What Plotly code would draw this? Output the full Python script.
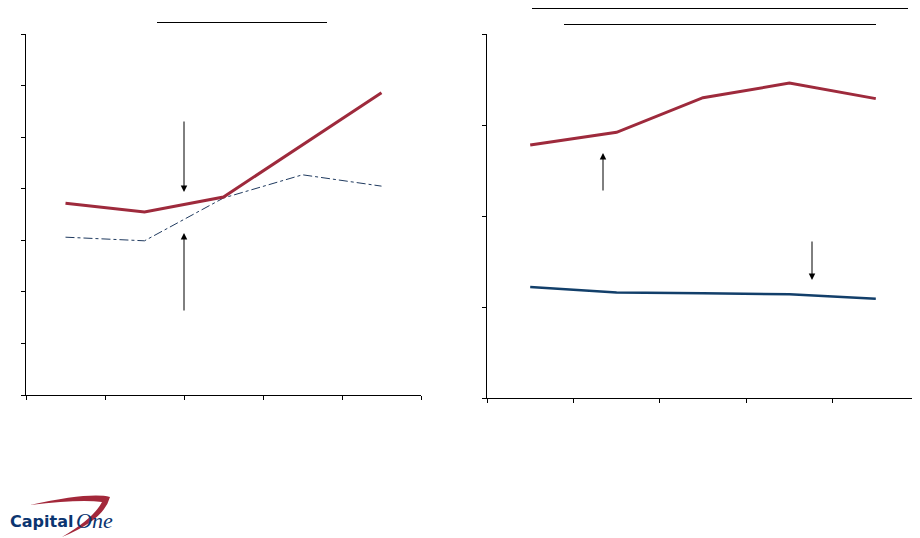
import plotly.graph_objects as go

# period buckets (no labels shown in the original)
periods = ["P1", "P2", "P3", "P4", "P5"]

# left panel
left_red = [3.72, 3.55, 3.84, 4.85, 5.86]
left_blue = [3.06, 2.99, 3.82, 4.27, 4.05]

# right panel
right_red = [2.78, 2.92, 3.30, 3.46, 3.29]
right_blue = [1.22, 1.16, 1.15, 1.14, 1.09]

RED = "#9E2A3C"
NAVY = "#123F6A"
# the page body has an 8px margin, so the figure is placed at (8, 8)
OFF = 8
W, H = 912, 530


def px(x):
    return (x - OFF) / W


def py(y):
    return 1 - (y - OFF) / H


fig = go.Figure()

fig.add_trace(go.Scatter(x=periods, y=left_blue, mode="lines",
                         line=dict(color="#1F3A5F", width=1, dash="dashdot"),
                         xaxis="x", yaxis="y", hoverinfo="skip"))
fig.add_trace(go.Scatter(x=periods, y=left_red, mode="lines",
                         line=dict(color=RED, width=3),
                         xaxis="x", yaxis="y", hoverinfo="skip"))
fig.add_trace(go.Scatter(x=periods, y=right_red, mode="lines",
                         line=dict(color=RED, width=3),
                         xaxis="x2", yaxis="y2", hoverinfo="skip"))
fig.add_trace(go.Scatter(x=periods, y=right_blue, mode="lines",
                         line=dict(color=NAVY, width=2.5),
                         xaxis="x2", yaxis="y2", hoverinfo="skip"))

axis_style = dict(showline=True, linecolor="black", linewidth=1,
                  ticks="outside", ticklen=4, tickcolor="black",
                  showgrid=False, zeroline=False, showticklabels=False)

fig.update_layout(
    width=W, height=H,
    margin=dict(l=0, r=0, t=0, b=0),
    paper_bgcolor="white", plot_bgcolor="white",
    showlegend=False,
    xaxis=dict(domain=[px(26), px(421)], anchor="y", type="category",
               tickson="boundaries", range=[-0.5, 4.5], **axis_style),
    yaxis=dict(domain=[py(395), py(34)], anchor="x", range=[0, 7],
               dtick=1, **axis_style),
    xaxis2=dict(domain=[px(487), px(919)], anchor="y2", type="category",
                tickson="boundaries", range=[-0.5, 4.5], **axis_style),
    yaxis2=dict(domain=[py(398), py(34)], anchor="x2", range=[0, 4],
                dtick=1, **axis_style),
)

# title underlines
for x0, x1, y in [(157, 327, 22.5), (532, 908, 8.5), (564, 876, 24.5)]:
    fig.add_shape(type="line", xref="paper", yref="paper",
                  x0=px(x0), x1=px(x1), y0=py(y), y1=py(y),
                  line=dict(color="black", width=1))

# callout arrows (tail -> head)
arrows = [(184, 120, 184, 192), (184, 312, 184, 233),
          (603, 192, 603, 153), (812, 240, 812, 280)]
for xt, yt, xh, yh in arrows:
    fig.add_annotation(xref="paper", yref="paper", axref="pixel", ayref="pixel",
                       x=px(xh), y=py(yh), ax=xt - xh, ay=yt - yh,
                       text="", showarrow=True, arrowhead=2, arrowsize=1.3,
                       arrowwidth=1, arrowcolor="black")

# Capital One logo
fig.add_shape(type="path", xref="paper", yref="paper",
              path=f"M {px(30)},{py(505)} Q {px(90)},{py(492)} {px(110)},{py(497)} "
                   f"Q {px(104)},{py(520)} {px(62)},{py(537)} "
                   f"Q {px(94)},{py(518)} {px(102)},{py(502)} "
                   f"Q {px(80)},{py(499)} {px(30)},{py(505)} Z",
              fillcolor="#A3283A", line=dict(width=0), layer="below")
fig.add_annotation(xref="paper", yref="paper", x=px(8), y=py(521),
                   xanchor="left", yanchor="middle", showarrow=False,
                   text="Capital",
                   font=dict(family="DejaVu Sans", size=16, weight="bold",
                             color="#0B3570"))
fig.add_annotation(xref="paper", yref="paper", x=px(74), y=py(520),
                   xanchor="left", yanchor="middle", showarrow=False,
                   text="One",
                   font=dict(family="Liberation Serif", size=22, style="italic",
                             color="#0B3570"))

fig.write_html("out.html")
